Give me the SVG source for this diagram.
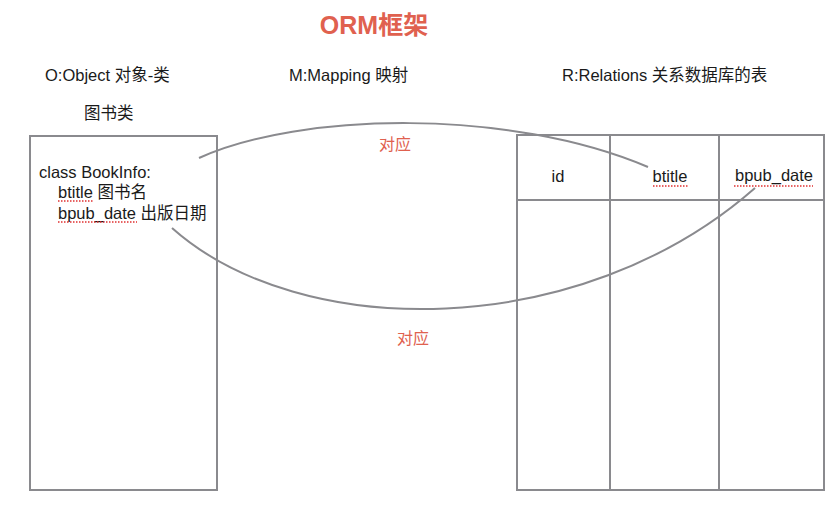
<svg xmlns="http://www.w3.org/2000/svg" width="830" height="518" viewBox="0 0 830 518">
<style>
.box{fill:none;stroke:#8a8a8e;stroke-width:2}
.conn{fill:none;stroke:#8a8a8e;stroke-width:2}
.t{font-family:"Liberation Sans","Noto Sans CJK SC",sans-serif;font-size:16.5px;fill:#1a1a1a}
.red{font-family:"Liberation Sans","Noto Sans CJK SC",sans-serif;font-size:16px;fill:#e0614f}
.title{font-family:"Liberation Sans","Noto Sans CJK SC",sans-serif;font-size:25px;font-weight:bold;fill:#e0614f}
.sq{stroke:#e03030;stroke-width:1.5;stroke-dasharray:1.5 1.5;fill:none}
</style>
<rect width="830" height="518" fill="#ffffff"/>
<g id="title"><text class="title" x="374" y="34" text-anchor="middle">ORM框架</text></g>
<g id="headers">
<text class="t" x="45" y="81">O:Object 对象-类</text>
<text class="t" x="289" y="81">M:Mapping 映射</text>
<text class="t" x="562" y="81">R:Relations 关系数据库的表</text>
<text class="t" x="84" y="119">图书类</text>
</g>
<g id="class-box">
<rect class="box" x="30" y="136" width="187" height="354"/>
<text class="t" x="39" y="178">class BookInfo:</text>
<text class="t" x="58" y="198">btitle 图书名</text>
<text class="t" x="58" y="219">bpub_date 出版日期</text>
<line class="sq" x1="58" y1="201" x2="93" y2="201"/>
<line class="sq" x1="58" y1="222" x2="137" y2="222"/>
</g>
<g id="table">
<rect class="box" x="517" y="135" width="307" height="355"/>
<line class="box" x1="610" y1="135" x2="610" y2="490"/>
<line class="box" x1="719" y1="135" x2="719" y2="490"/>
<line class="box" x1="517" y1="200" x2="824" y2="200"/>
<text class="t" x="558" y="182" text-anchor="middle">id</text>
<text class="t" x="670" y="182" text-anchor="middle">btitle</text>
<text class="t" x="774" y="181" text-anchor="middle">bpub_date</text>
<line class="sq" x1="653" y1="186" x2="688" y2="186"/>
<line class="sq" x1="734" y1="186" x2="813" y2="186"/>
</g>
<g id="connectors">
<path class="conn" d="M199,158 C300,112 510,108 648,167"/>
<path class="conn" d="M172,228 C300,342 580,342 755,188"/>
</g>
<g id="labels">
<text class="red" x="395" y="150" text-anchor="middle">对应</text>
<text class="red" x="413" y="344" text-anchor="middle">对应</text>
</g>
</svg>
